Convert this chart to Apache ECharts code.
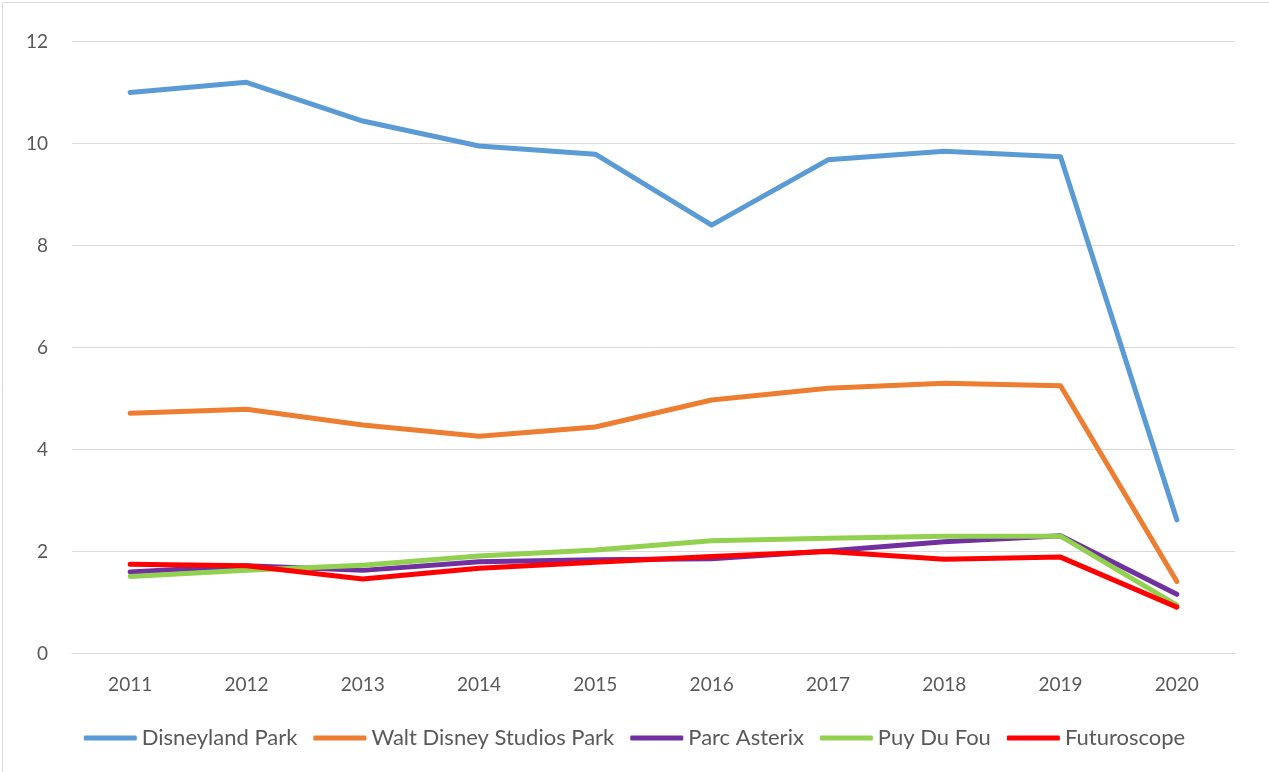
<!DOCTYPE html>
<html>
<head>
<meta charset="utf-8">
<script src="https://cdn.jsdelivr.net/npm/echarts@6/dist/echarts.min.js"></script>
<style>
html,body{margin:0;padding:0;background:#fff;}
#c{width:1269px;height:772px;}
</style>
</head>
<body>
<div id="c"></div>
<script>
const years = ['2011','2012','2013','2014','2015','2016','2017','2018','2019','2020'];
const disneyland = [11.0, 11.2, 10.44, 9.95, 9.79, 8.4, 9.68, 9.85, 9.74, 2.62];
const waltDisneyStudios = [4.71, 4.79, 4.48, 4.26, 4.44, 4.97, 5.2, 5.3, 5.25, 1.41];
const parcAsterix = [1.6, 1.72, 1.63, 1.8, 1.84, 1.86, 2.01, 2.19, 2.31, 1.16];
const puyDuFou = [1.51, 1.63, 1.73, 1.91, 2.03, 2.21, 2.26, 2.3, 2.3, 0.95];
const futuroscope = [1.75, 1.72, 1.46, 1.67, 1.79, 1.9, 2.0, 1.85, 1.89, 0.91];
const yTicks = {min: 0, max: 12, interval: 2};

const names = ['Disneyland Park','Walt Disney Studios Park','Parc Asterix','Puy Du Fou','Futuroscope'];
const data = [disneyland, waltDisneyStudios, parcAsterix, puyDuFou, futuroscope];
const colors = ['#5B9BD5','#ED7D31','#7030A0','#92D050','#FF0000'];
const font = 'Lato, "Open Sans", sans-serif';

const chart = echarts.init(document.getElementById('c'), null, {renderer:'canvas'});
chart.setOption({
  animation: false,
  backgroundColor: '#fff',
  graphic: [{
    type: 'rect', left: 0, top: 0, silent: true,
    shape: {x: 0.5, y: 0.5, width: 1267, height: 770},
    style: {fill: 'none', stroke: '#D9D9D9', lineWidth: 1}
  }],
  grid: {left: 72, right: 34, top: 41.5, bottom: 118.5, containLabel: false},
  legend: {
    bottom: 18,
    left: 'center',
    itemWidth: 53,
    itemHeight: 5,
    itemGap: 16,
    icon: 'roundRect',
    textStyle: {fontFamily: font, fontSize: 22, color: '#595959'},
    data: names.map((n, i) => ({name: n, itemStyle: {color: colors[i]}}))
  },
  xAxis: {
    type: 'category',
    data: years,
    boundaryGap: true,
    axisLine: {show: true, lineStyle: {color: '#D9D9D9', width: 1}},
    axisTick: {show: false},
    axisLabel: {fontFamily: font, fontSize: 19, color: '#595959', margin: 22}
  },
  yAxis: {
    type: 'value',
    min: yTicks.min, max: yTicks.max, interval: yTicks.interval,
    axisLine: {show: false},
    axisTick: {show: false},
    splitLine: {lineStyle: {color: '#D9D9D9', width: 1}},
    axisLabel: {fontFamily: font, fontSize: 19, color: '#595959', margin: 24}
  },
  series: names.map((n, i) => ({
    name: n,
    type: 'line',
    data: data[i],
    symbol: 'none',
    lineStyle: {color: colors[i], width: 5, cap: 'round', join: 'round'},
    itemStyle: {color: colors[i]}
  }))
});
</script>
</body>
</html>
